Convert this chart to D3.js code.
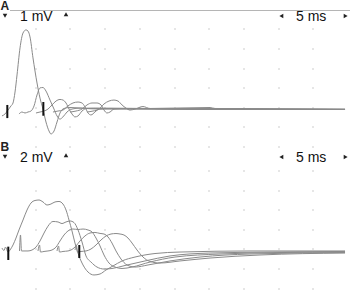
<!DOCTYPE html>
<html>
<head>
<meta charset="utf-8">
<script src="https://cdn.jsdelivr.net/npm/d3@7"></script>
<style>
  html, body { margin: 0; padding: 0; background: #fff; }
  svg { display: block; }
</style>
</head>
<body>
<div id="chart"></div>
<script>
// sweep: 5 ms per division, 10 divisions
const timeTicks = [5, 10, 15, 20, 25, 30, 35, 40, 45];
// dot rows (mV) of each panel
const gridA = [-2, -1, 0, 1, 2, 3, 4];
const gridB = [-4, -2, 0, 2, 4, 6, 8];

// panel A traces, [ms, mV]
const traceA1 = [[0.14,-0.42],[0.58,-0.32],[1.01,-0.12],[1.44,0.09],[1.73,0.24],[2.02,0.80],[2.31,1.67],[2.74,3.05],[3.17,3.81],[3.60,3.97],[3.89,3.91],[4.18,3.61],[4.61,2.54],[5.19,1.26],[5.62,0.49],[6.05,-0.07],[6.48,-0.73],[6.92,-1.19],[7.20,-1.34],[7.64,-1.19],[8.07,-0.73],[8.50,-0.27],[9.08,-0.04],[9.94,0.01],[11.38,-0.02],[14.27,-0.07],[20.03,-0.07],[28.67,-0.09],[49.57,-0.09]];
const traceA2 = [[2.59,-0.32],[3.03,-0.22],[3.46,-0.27],[3.89,-0.22],[4.32,-0.17],[4.76,0.09],[5.19,0.65],[5.62,1.01],[6.05,1.03],[6.48,0.85],[7.06,0.39],[7.64,-0.07],[8.07,-0.42],[8.50,-0.58],[8.93,-0.47],[9.51,-0.22],[10.23,-0.07],[11.38,-0.02],[14.27,-0.04],[24.35,-0.07],[49.57,-0.09]];
const traceA3 = [[5.04,-0.27],[5.62,-0.22],[6.20,-0.17],[6.77,-0.07],[7.35,0.14],[7.93,0.34],[8.50,0.42],[8.93,0.39],[9.37,0.24],[9.80,-0.07],[10.23,-0.32],[10.66,-0.47],[11.10,-0.42],[11.67,-0.17],[12.39,-0.04],[14.27,-0.02],[28.67,-0.07],[49.57,-0.09]];
const traceA4 = [[7.49,-0.22],[8.21,-0.17],[8.93,-0.12],[9.65,0.09],[10.37,0.24],[11.10,0.29],[11.67,0.24],[12.10,0.04],[12.54,-0.27],[12.97,-0.37],[13.54,-0.22],[14.12,-0.07],[15.71,-0.04],[49.57,-0.07]];
const traceA5 = [[9.94,-0.22],[10.81,-0.17],[11.67,-0.07],[12.39,0.14],[13.11,0.24],[13.83,0.24],[14.41,0.14],[14.84,-0.12],[15.27,-0.27],[15.71,-0.22],[16.28,-0.07],[17.87,-0.04],[49.57,-0.09]];
const traceA6 = [[12.39,-0.22],[13.26,-0.17],[14.12,-0.07],[14.84,0.19],[15.56,0.34],[16.28,0.39],[16.86,0.34],[17.44,0.14],[18.01,-0.02],[18.59,-0.12],[19.31,-0.07],[20.46,0.06],[21.47,-0.04],[30.12,0.01],[30.84,-0.04],[49.57,-0.09]];

// panel B traces, [ms, mV]
const traceB1 = [[0.14,0.14],[0.43,-0.11],[0.65,0.24],[1.01,-0.27],[1.30,-0.06],[1.73,0.45],[2.16,1.16],[2.59,1.98],[3.17,3.00],[3.75,4.02],[4.32,4.73],[4.90,4.99],[5.48,5.04],[6.05,4.84],[6.63,4.53],[7.20,4.63],[7.78,4.84],[8.36,4.89],[8.93,4.63],[9.37,4.02],[9.80,3.00],[10.23,1.88],[10.66,0.65],[11.24,-0.67],[11.82,-1.59],[12.54,-2.31],[13.40,-2.61],[14.27,-2.51],[15.13,-2.10],[16.14,-1.69],[17.44,-1.18],[19.31,-0.78],[22.19,-0.42],[25.79,-0.27],[35.88,-0.16],[49.57,-0.16]];
const traceB2 = [[2.67,-0.16],[2.81,1.47],[2.95,-0.16],[3.31,-0.16],[3.89,-0.16],[4.47,-0.06],[5.04,0.24],[5.62,0.86],[6.20,1.67],[6.77,2.37],[7.49,2.85],[8.21,2.80],[8.79,2.64],[9.37,2.80],[9.94,2.90],[10.52,2.74],[11.10,1.98],[11.67,0.76],[12.25,-0.67],[12.97,-1.29],[13.83,-1.80],[14.84,-2.00],[15.99,-1.95],[17.87,-1.64],[20.75,-1.18],[24.35,-0.67],[30.12,-0.37],[38.76,-0.27],[49.57,-0.21]];
const traceB3 = [[5.33,-0.16],[5.55,0.45],[5.69,-0.27],[6.20,-0.21],[6.77,-0.16],[7.35,-0.06],[7.93,0.24],[8.50,0.86],[9.08,1.47],[9.65,1.88],[10.37,2.08],[11.10,2.03],[11.82,2.08],[12.54,1.98],[13.11,1.78],[13.69,1.16],[14.27,0.35],[14.84,-0.57],[15.56,-1.39],[16.43,-1.80],[17.44,-1.95],[18.88,-1.80],[21.47,-1.29],[25.07,-0.78],[31.56,-0.47],[40.20,-0.32],[49.57,-0.27]];
const traceB4 = [[8.07,-0.16],[8.29,0.35],[8.43,-0.27],[8.93,-0.21],[9.65,-0.16],[10.23,-0.01],[10.81,0.35],[11.38,0.86],[12.10,1.37],[12.82,1.67],[13.54,1.73],[14.27,1.63],[14.84,1.57],[15.42,1.27],[15.99,0.65],[16.57,-0.16],[17.29,-0.98],[18.16,-1.59],[19.31,-1.80],[21.18,-1.59],[24.35,-1.18],[28.67,-0.78],[35.88,-0.47],[49.57,-0.32]];
const traceB5 = [[10.66,-0.06],[10.88,0.35],[11.02,-0.27],[11.53,-0.21],[12.25,-0.16],[12.97,0.04],[13.69,0.45],[14.41,0.96],[15.13,1.37],[15.85,1.57],[16.57,1.62],[17.15,1.57],[17.72,1.47],[18.30,1.16],[18.88,0.65],[19.60,-0.06],[20.46,-0.78],[21.47,-1.23],[22.91,-1.39],[25.79,-1.18],[30.12,-0.88],[37.32,-0.57],[49.57,-0.37]];

// latency cursors: [ms, low mV, high mV]
const cursorsA = [[0.91, -0.53, 0.14], [6.10, -0.41, 0.29]];
const cursorsB = [[1.05, -1.08, 0.28], [11.28, -0.88, 0.45]];

const panelNames = ['A', 'B'];
const gainLabels = ['1 mV', '2 mV'];
const sweepLabel = '5 ms';

const width = 350, height = 291;
const font = '"Liberation Sans", Arial, Helvetica, sans-serif';

const svg = d3.select('#chart')
    .append('svg')
    .attr('width', width)
    .attr('height', height);

const x = d3.scaleLinear().domain([0, 50]).range([1, 348]);

const panels = [
    {
        name: panelNames[0], gain: gainLabels[0], grid: gridA,
        traces: [traceA1, traceA2, traceA3, traceA4, traceA5, traceA6],
        cursors: cursorsA,
        y: d3.scaleLinear().domain([-2, 4]).range([146.9, 29.3]),
        top: 0
    },
    {
        name: panelNames[1], gain: gainLabels[1], grid: gridB,
        traces: [traceB1, traceB2, traceB3, traceB4, traceB5],
        cursors: cursorsB,
        y: d3.scaleLinear().domain([-4, 8]).range([288.6, 171]),
        top: 141
    }
];

panels.forEach((p, i) => drawPanel(p, i));

function drawPanel(p, i) {
    const g = svg.append('g');

    // dotted grid
    const dots = [];
    timeTicks.forEach(t => p.grid.forEach(v => dots.push([t, v])));
    g.selectAll('.dot')
        .data(dots)
        .enter()
        .append('rect')
        .attr('class', 'dot')
        .attr('x', d => Math.round(x(d[0])) - 0.5)
        .attr('y', d => Math.round(p.y(d[1])) - 0.5)
        .attr('width', 1)
        .attr('height', 1)
        .attr('fill', '#9a9a9a');

    // traces
    const line = d3.line()
        .x(d => x(d[0]))
        .y(d => p.y(d[1]))
        .curve(d3.curveMonotoneX);

    g.selectAll('.trace')
        .data(p.traces)
        .enter()
        .append('path')
        .attr('class', 'trace')
        .attr('d', line)
        .attr('fill', 'none')
        .attr('stroke', '#8a8a8a')
        .attr('stroke-width', 1);

    // cursors
    g.selectAll('.cursor')
        .data(p.cursors)
        .enter()
        .append('line')
        .attr('x1', d => x(d[0]))
        .attr('x2', d => x(d[0]))
        .attr('y1', d => p.y(d[1]))
        .attr('y2', d => p.y(d[2]))
        .attr('stroke', '#111')
        .attr('stroke-width', 2);

    // header
    const top = p.top;
    g.append('text')
        .attr('x', 0.5)
        .attr('y', top + 10)
        .attr('font-family', font)
        .attr('font-size', 12)
        .attr('font-weight', 'bold')
        .attr('fill', '#222')
        .text(p.name);

    if (i === 0) {
        g.append('line')
            .attr('x1', 10).attr('x2', width)
            .attr('y1', top + 10.5).attr('y2', top + 10.5)
            .attr('stroke', '#b5b5b5')
            .attr('stroke-width', 1);
    }

    const hy = top + 21;
    g.append('text')
        .attr('x', 20)
        .attr('y', hy)
        .attr('font-family', font)
        .attr('font-size', 14)
        .attr('fill', '#111')
        .text(p.gain);

    g.append('text')
        .attr('x', 296)
        .attr('y', hy)
        .attr('font-family', font)
        .attr('font-size', 14)
        .attr('fill', '#111')
        .text(sweepLabel);

    // little arrow buttons
    const tri = d3.symbol().type(d3.symbolTriangle).size(9);
    const arrows = [[5, hy - 6, 180], [66, hy - 6, 0], [282, hy - 5, -90], [345, hy - 5, 90]];
    g.selectAll('.arrow')
        .data(arrows)
        .enter()
        .append('path')
        .attr('d', tri)
        .attr('transform', d => `translate(${d[0]},${d[1]}) rotate(${d[2]})`)
        .attr('fill', '#222');
}
</script>
</body>
</html>
